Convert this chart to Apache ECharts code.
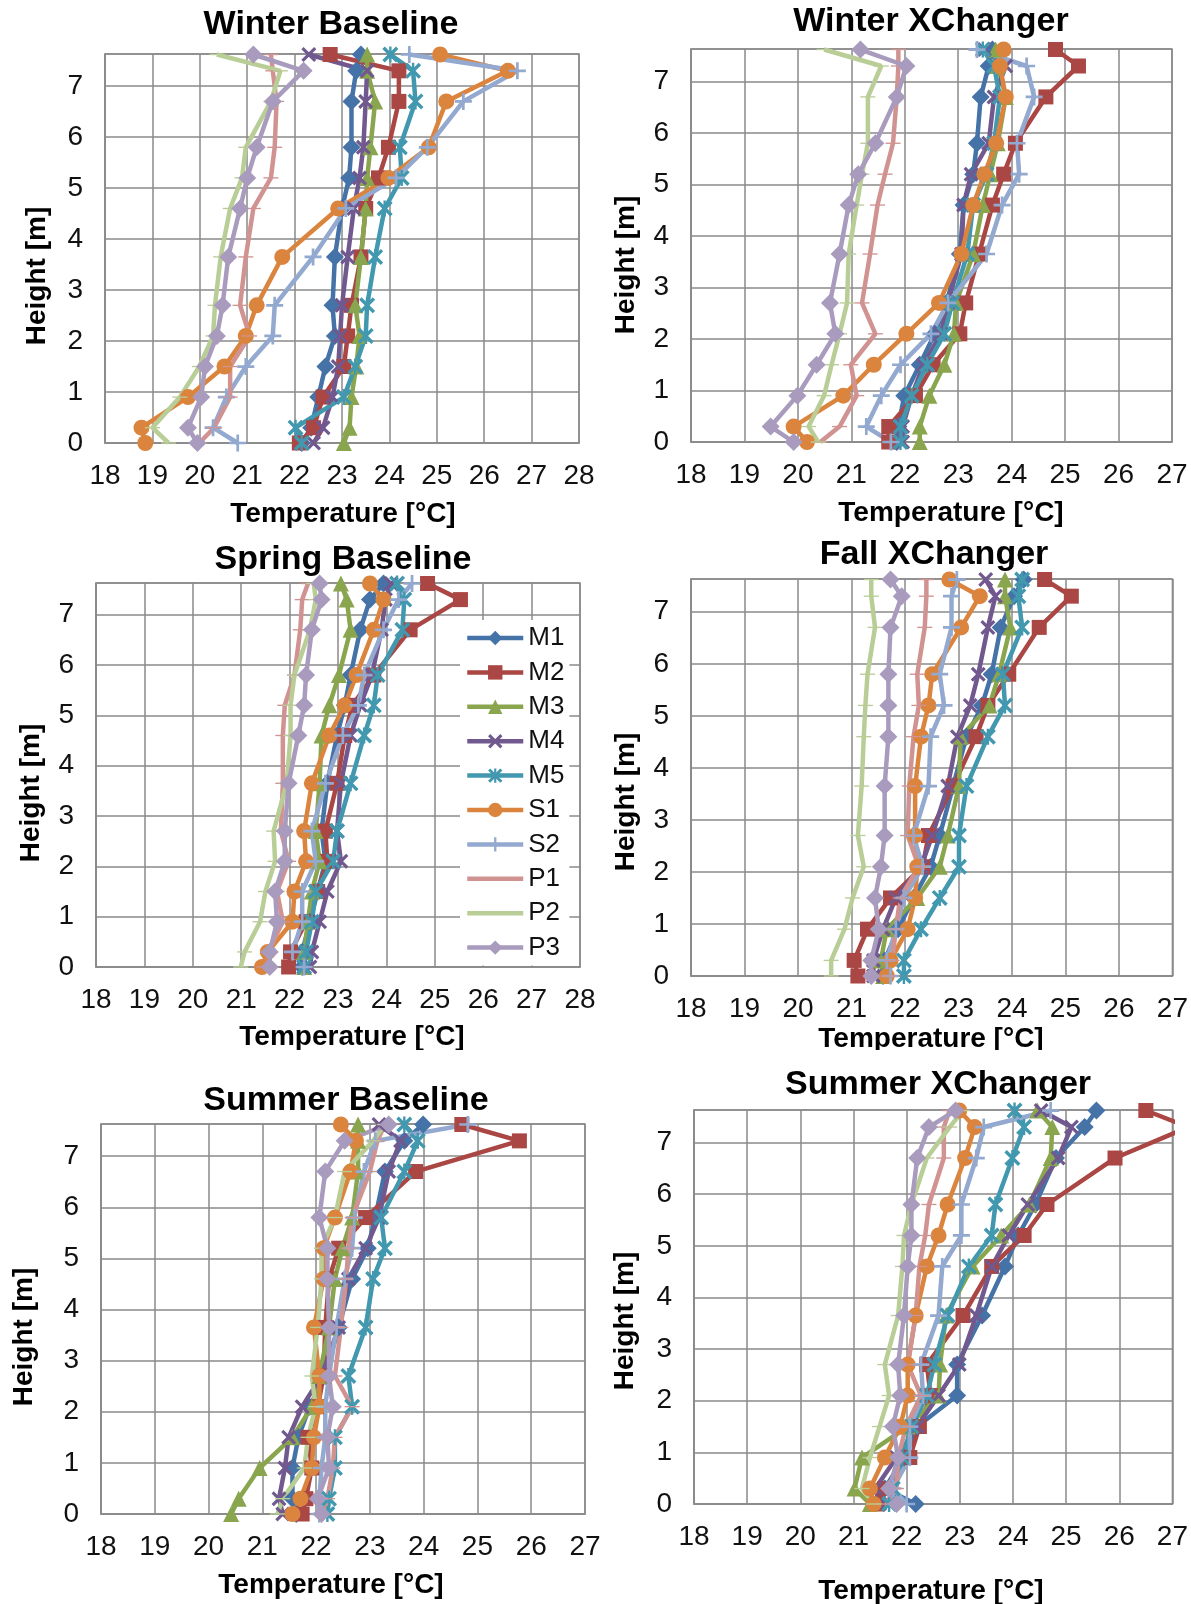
<!DOCTYPE html>
<html>
<head>
<meta charset="utf-8">
<title>Temperature profiles</title>
<script src="https://cdn.jsdelivr.net/npm/echarts@6/dist/echarts.min.js"></script>
<style>
  html, body { margin: 0; padding: 0; background: #fff; }
  #main { width: 1191px; height: 1604px; }
</style>
</head>
<body>
<div id="main"></div>
<script>
// sensor heights [m], bottom to top
var heights = [0, 0.3, 0.9, 1.5, 2.1, 2.7, 3.65, 4.6, 5.2, 5.8, 6.7, 7.3, 7.62];
var sensorNames = ['M1', 'M2', 'M3', 'M4', 'M5', 'S1', 'S2', 'P1', 'P2', 'P3'];
var panelTitles = ['Winter Baseline', 'Winter XChanger', 'Spring Baseline',
                   'Fall XChanger', 'Summer Baseline', 'Summer XChanger'];
var xMaxList = [28, 27, 28, 27, 27, 27];

// temperatures [°C]: one row per sensor (M1..P3), one value per height
var winterBaseline = [
  [22.15, 22.35, 22.5, 22.65, 22.85, 22.8, 22.85, 23.0, 23.15, 23.2, 23.2, 23.3, 23.4],
  [22.1, 22.4, 22.6, 23.04, 23.12, 23.2, 23.4, 23.5, 23.77, 23.98, 24.2, 24.2, 22.75],
  [23.04, 23.16, 23.2, 23.3, 23.37, 23.28, 23.4, 23.5, 23.53, 23.6, 23.7, 23.53, 23.53],
  [22.4, 22.6, 22.8, 22.92, 22.96, 23.0, 23.12, 23.25, 23.37, 23.45, 23.5, 23.53, 22.3],
  [22.15, 22.02, 23.04, 23.28, 23.5, 23.53, 23.7, 23.9, 24.26, 24.22, 24.55, 24.5, 24.02],
  [18.85, 18.77, 19.75, 20.52, 20.97, 21.2, 21.74, 22.92, 23.98, 24.83, 25.2, 26.5, 25.07],
  [20.8, 20.28, 20.56, 20.97, 21.54, 21.58, 22.39, 23.08, 24.14, 24.8, 25.56, 26.7, 24.42],
  [19.99, 20.3, 20.64, 20.64, 21.05, 20.85, 20.97, 21.13, 21.5, 21.58, 21.62, 21.54, 21.5],
  [19.34, 19.0, 19.58, 19.99, 20.28, 20.32, 20.44, 20.64, 20.89, 20.97, 21.5, 21.7, 20.36],
  [19.95, 19.75, 20.03, 20.11, 20.36, 20.48, 20.6, 20.85, 21.0, 21.2, 21.54, 22.19, 21.13]
];
var winterXChanger = [
  [21.85, 21.88, 21.99, 22.28, 22.56, 22.78, 23.03, 23.1, 23.28, 23.35, 23.42, 23.57, 23.64],
  [21.7, 21.7, 22.2, 22.53, 23.03, 23.14, 23.39, 23.64, 23.85, 24.07, 24.64, 25.25, 24.82],
  [22.28, 22.28, 22.46, 22.74, 22.92, 22.96, 23.28, 23.46, 23.6, 23.74, 23.89, 23.74, 23.7],
  [21.96, 21.96, 22.13, 22.35, 22.67, 22.81, 23.06, 23.1, 23.24, 23.57, 23.67, 23.89, 23.49],
  [21.92, 21.92, 22.13, 22.42, 22.74, 22.89, 23.17, 23.28, 23.53, 23.67, 23.78, 23.67, 23.46],
  [20.17, 19.92, 20.85, 21.42, 22.03, 22.64, 23.06, 23.28, 23.49, 23.71, 23.89, 23.78, 23.85],
  [21.74, 21.28, 21.56, 21.92, 22.49, 22.81, 23.53, 23.82, 24.14, 24.1, 24.42, 24.28, 23.35],
  [20.42, 20.78, 21.1, 20.99, 21.45, 21.2, 21.35, 21.49, 21.63, 21.78, 21.85, 21.88, 21.88],
  [20.38, 20.2, 20.49, 20.63, 20.78, 20.92, 20.95, 21.1, 21.2, 21.31, 21.31, 21.56, 20.49],
  [19.92, 19.49, 19.99, 20.35, 20.7, 20.6, 20.78, 20.95, 21.13, 21.45, 21.85, 22.03, 21.17]
];
var springBaseline = [
  [22.26, 22.26, 22.42, 22.58, 22.74, 22.66, 22.78, 22.98, 23.14, 23.26, 23.46, 23.66, 23.94],
  [21.98, 22.02, 22.34, 22.58, 22.78, 22.74, 22.98, 23.14, 23.3, 23.74, 24.49, 25.53, 24.85],
  [22.3, 22.3, 22.38, 22.46, 22.62, 22.54, 22.62, 22.66, 22.82, 23.02, 23.26, 23.18, 23.06],
  [22.42, 22.46, 22.62, 22.78, 23.06, 22.98, 23.06, 23.26, 23.46, 23.7, 23.9, 23.98, 24.1],
  [22.3, 22.34, 22.46, 22.54, 22.9, 22.98, 23.26, 23.54, 23.74, 23.82, 24.33, 24.37, 24.22],
  [21.43, 21.55, 22.06, 22.1, 22.34, 22.3, 22.46, 22.82, 23.14, 23.38, 23.74, 23.94, 23.66],
  [22.3, 22.06, 22.26, 22.26, 22.54, 22.46, 22.74, 23.1, 23.42, 23.54, 23.94, 24.25, 24.53],
  [21.47, 21.55, 21.86, 21.74, 21.98, 21.82, 21.86, 21.86, 21.9, 22.1, 22.22, 22.26, 22.38],
  [20.99, 21.07, 21.39, 21.5, 21.7, 21.67, 21.94, 22.02, 22.02, 22.1, 22.42, 22.54, 22.5],
  [21.59, 21.59, 21.74, 21.7, 21.9, 21.9, 21.98, 22.18, 22.3, 22.34, 22.46, 22.66, 22.62]
];
var fallXChanger = [
  [21.59, 21.62, 21.87, 22.16, 22.48, 22.65, 22.9, 23.15, 23.44, 23.62, 23.79, 24.04, 24.22],
  [21.12, 21.05, 21.3, 21.73, 22.33, 22.44, 22.9, 23.33, 23.55, 23.94, 24.51, 25.11, 24.61],
  [21.59, 21.55, 21.66, 22.23, 22.65, 22.8, 23.01, 23.04, 23.58, 23.76, 23.97, 23.87, 23.87],
  [21.41, 21.41, 21.59, 21.83, 22.3, 22.51, 22.8, 22.98, 23.22, 23.37, 23.55, 23.69, 23.51],
  [21.98, 21.98, 22.3, 22.65, 23.01, 23.01, 23.15, 23.55, 23.87, 23.83, 24.19, 24.12, 24.19],
  [21.66, 21.73, 22.05, 22.19, 22.23, 22.19, 22.19, 22.3, 22.44, 22.51, 23.05, 23.4, 22.83],
  [21.73, 21.66, 21.83, 21.98, 22.33, 22.16, 22.44, 22.48, 22.73, 22.65, 22.87, 22.87, 22.97],
  [21.69, 21.76, 21.83, 21.91, 22.26, 22.05, 22.08, 22.16, 22.26, 22.23, 22.37, 22.4, 22.4],
  [20.62, 20.62, 20.87, 21.02, 21.23, 21.12, 21.19, 21.23, 21.26, 21.3, 21.44, 21.37, 21.37],
  [21.37, 21.37, 21.51, 21.44, 21.55, 21.62, 21.62, 21.69, 21.69, 21.69, 21.73, 21.94, 21.73]
];
var summerBaseline = [
  [21.63, 21.56, 21.56, 21.67, 21.88, 22.17, 22.42, 22.67, 22.96, 23.1, 23.28, 23.64, 23.99],
  [21.74, 21.81, 21.92, 21.85, 22.03, 22.14, 22.17, 22.24, 22.42, 22.92, 23.85, 25.78, 24.71],
  [20.42, 20.56, 20.95, 21.56, 21.92, 22.06, 22.24, 22.35, 22.49, 22.67, 22.78, 22.78, 22.78],
  [21.38, 21.31, 21.42, 21.49, 21.74, 22.1, 22.42, 22.6, 22.92, 23.17, 23.35, 23.57, 23.17],
  [22.21, 22.24, 22.35, 22.35, 22.67, 22.6, 22.92, 23.06, 23.28, 23.21, 23.64, 23.89, 23.64],
  [21.56, 21.71, 21.92, 21.96, 22.06, 22.06, 21.96, 22.14, 22.14, 22.35, 22.64, 22.74, 22.46],
  [22.06, 22.06, 22.1, 22.17, 22.17, 22.24, 22.38, 22.53, 22.67, 22.71, 22.89, 23.1, 24.82],
  [22.14, 22.21, 22.31, 22.35, 22.67, 22.35, 22.46, 22.56, 22.6, 22.67, 23.0, 23.14, 23.28],
  [21.28, 21.38, 21.78, 21.85, 21.99, 21.92, 22.03, 22.1, 22.1, 22.35, 22.53, 23.06, 23.28],
  [22.1, 22.03, 22.24, 22.21, 22.31, 22.24, 22.24, 22.21, 22.21, 22.06, 22.17, 22.53, 23.35]
];
var summerXChanger = [
  [22.17, 21.59, 21.95, 22.2, 22.95, 22.95, 23.42, 23.85, 24.1, 24.42, 24.81, 25.35, 25.57],
  [21.45, 21.59, 22.06, 22.24, 22.45, 22.38, 23.06, 23.6, 24.21, 24.64, 25.92, 27.3, 26.5],
  [21.31, 21.02, 21.16, 22.02, 22.6, 22.63, 22.74, 23.24, 23.78, 24.31, 24.71, 24.74, 24.46],
  [21.49, 21.41, 21.81, 22.2, 22.6, 22.99, 23.31, 23.6, 23.92, 24.28, 24.85, 25.1, 24.53],
  [21.67, 21.74, 21.92, 22.09, 22.38, 22.52, 22.77, 23.17, 23.6, 23.67, 23.99, 24.21, 24.03],
  [21.38, 21.31, 21.59, 21.88, 22.02, 22.02, 22.17, 22.38, 22.6, 22.77, 23.1, 23.28, 22.99],
  [22.0, 21.74, 22.06, 22.06, 22.31, 22.27, 22.6, 22.67, 23.03, 23.03, 23.31, 23.45, 24.71],
  [21.59, 21.81, 21.84, 21.99, 22.27, 22.02, 22.17, 22.24, 22.35, 22.42, 22.7, 22.7, 22.81],
  [21.38, 21.16, 21.31, 21.49, 21.67, 21.59, 21.84, 21.92, 21.95, 22.09, 22.38, 22.81, 23.06],
  [21.81, 21.67, 21.84, 21.74, 21.88, 21.84, 21.95, 22.02, 22.09, 22.09, 22.2, 22.42, 22.92]
];
var panelData = [winterBaseline, winterXChanger, springBaseline,
                 fallXChanger, summerBaseline, summerXChanger];

// styles (Excel 2010 palette + markers)
var colors = ['#4572A7', '#AA4643', '#89A54E', '#71588F', '#4198AF',
              '#DB843D', '#93A9CF', '#D19392', '#B9CD96', '#A99BBD'];
var xPath = 'path://M0,1.5 L1.5,0 L10,8.5 L8.5,10 Z M8.5,0 L10,1.5 L1.5,10 L0,8.5 Z';
var starPath = xPath + ' M4.25,0 L5.75,0 L5.75,10 L4.25,10 Z';
var plusPath = 'path://M0,4.2 L10,4.2 L10,5.8 L0,5.8 Z M4.2,0 L5.8,0 L5.8,10 L4.2,10 Z';
var dashPath = 'path://M0,0 L10,0 L10,3 L0,3 Z';
var symbols = ['diamond', 'rect', 'triangle', xPath, starPath,
               'circle', plusPath, dashPath, dashPath, 'diamond'];
var symbolSizes = [18, 15, 16, 15, 16, 16, 17, [15, 4.5], [15, 4.5], 18];

var FONT = '"Liberation Sans", Arial, sans-serif';
var GRID_COLOR = '#8a8a8a';

// panel layout (pixels)
var grids = [
  { left: 105, top: 54, width: 474, height: 389 },
  { left: 691, top: 49, width: 481, height: 393 },
  { left: 96, top: 583, width: 484, height: 384 },
  { left: 691, top: 579, width: 483, height: 397 },
  { left: 101, top: 1124, width: 484, height: 390 },
  { left: 694, top: 1110, width: 480, height: 394 }
];
var titlePos = [[331, 25], [931, 22], [343, 560], [934, 555], [346, 1101], [938, 1085]];
var xNamePos = [[343, 514], [951, 513], [352, 1037], [931, 1039], [331, 1585], [931, 1591]];
var yNamePos = [[37, 276], [626, 265], [31, 793], [626, 802], [24, 1337], [625, 1321]];

var chart = echarts.init(document.getElementById('main'));

var gridList = [], xAxes = [], yAxes = [], seriesList = [], graphics = [];

grids.forEach(function (g, i) {
  gridList.push({
    left: g.left, top: g.top, width: g.width, height: g.height,
    show: true, borderColor: GRID_COLOR, borderWidth: 1.5
  });
  xAxes.push({
    gridIndex: i, type: 'value', min: 18, max: xMaxList[i], interval: 1,
    axisLine: { show: true, onZero: false, lineStyle: { color: GRID_COLOR, width: 1.5 } },
    axisTick: { show: false },
    splitLine: { show: true, lineStyle: { color: GRID_COLOR, width: 1.5 } },
    axisLabel: { fontSize: 28, fontFamily: FONT, color: '#111', margin: 19 }
  });
  yAxes.push({
    gridIndex: i, type: 'value', min: 0, max: 7.63, interval: 1,
    axisLine: { show: true, onZero: false, lineStyle: { color: GRID_COLOR, width: 1.5 } },
    axisTick: { show: false },
    splitLine: { show: true, lineStyle: { color: GRID_COLOR, width: 1.5 } },
    axisLabel: { fontSize: 28, fontFamily: FONT, color: '#111', margin: 22, showMaxLabel: false }
  });

  sensorNames.forEach(function (name, j) {
    var temps = panelData[i][j];
    seriesList.push({
      type: 'line',
      name: name,
      xAxisIndex: i,
      yAxisIndex: i,
      data: heights.map(function (h, k) { return [temps[k], h]; }),
      symbol: symbols[j],
      symbolSize: symbolSizes[j],
      symbolKeepAspect: true,
      showAllSymbol: true,
      clip: true,
      lineStyle: { color: colors[j], width: 4.5 },
      itemStyle: { color: colors[j], borderWidth: 0 },
      emphasis: { disabled: true }
    });
  });

  graphics.push({
    type: 'text', x: titlePos[i][0], y: titlePos[i][1],
    style: { text: panelTitles[i], font: 'bold 34px ' + FONT, fill: '#000',
             align: 'center', verticalAlign: 'middle', textAlign: 'center', textVerticalAlign: 'middle' }
  });
  graphics.push({
    type: 'text', x: xNamePos[i][0], y: xNamePos[i][1],
    style: { text: 'Temperature [°C]', font: 'bold 28px ' + FONT, fill: '#000',
             align: 'center', verticalAlign: 'middle', textAlign: 'center', textVerticalAlign: 'middle' }
  });
  graphics.push({
    type: 'text', x: yNamePos[i][0], y: yNamePos[i][1], rotation: Math.PI / 2,
    style: { text: 'Height [m]', font: 'bold 28px ' + FONT, fill: '#000',
             align: 'center', verticalAlign: 'middle', textAlign: 'center', textVerticalAlign: 'middle' }
  });
});

// middle-row axis titles are cut off at the bottom in the original figure
graphics.push({
  type: 'rect', z: 100,
  shape: { x: 0, y: 1050, width: 1191, height: 14 },
  style: { fill: '#fff' }
});

// legend entries: P1 and P2 show only their line
var legendItems = sensorNames.map(function (name) {
  if (name === 'P1' || name === 'P2') {
    return { name: name, itemStyle: { opacity: 0 } };
  }
  return { name: name };
});

var option = {
  animation: false,
  backgroundColor: '#fff',
  grid: gridList,
  xAxis: xAxes,
  yAxis: yAxes,
  legend: {
    data: legendItems,
    orient: 'vertical',
    left: 460,
    top: 620,
    padding: 5,
    backgroundColor: '#fff',
    itemWidth: 56,
    itemHeight: 18,
    itemGap: 8.4,
    selectedMode: false,
    lineStyle: { width: 4.5 },
    textStyle: { fontSize: 26, lineHeight: 26, fontFamily: FONT, color: '#111' }
  },
  series: seriesList,
  graphic: graphics
};

chart.setOption(option);
</script>
</body>
</html>
